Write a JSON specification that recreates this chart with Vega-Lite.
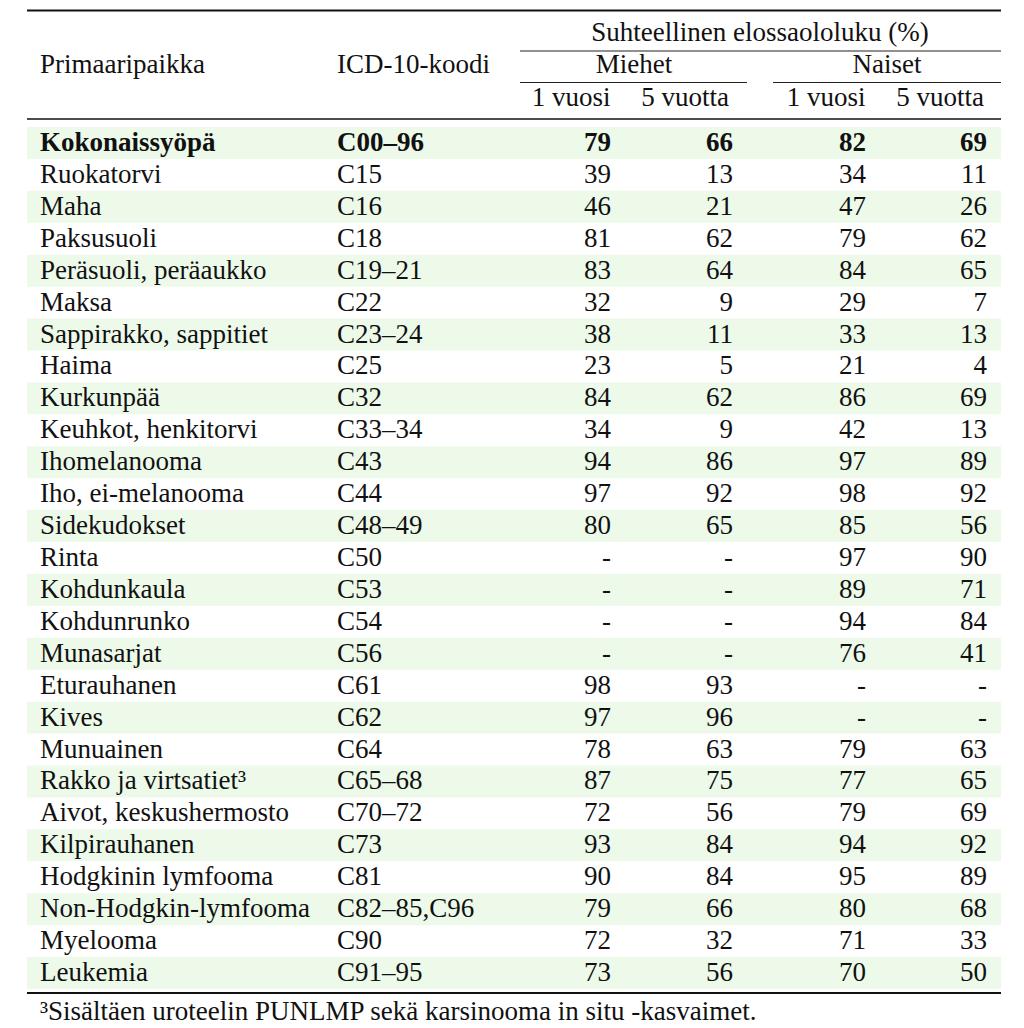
{
  "$schema": "https://vega.github.io/schema/vega-lite/v6.json",
  "width": 1024,
  "height": 1028,
  "padding": 0,
  "autosize": {"type": "none"},
  "background": "white",
  "config": {"view": {"stroke": null}, "font": "Liberation Serif", "text": {"font": "Liberation Serif", "fontSize": 27, "color": "#111111", "baseline": "middle"}},
  "datasets": {
    "rows": [
      {"site": "Kokonaissyöpä", "code": "C00–96", "m1": "79", "m5": "66", "n1": "82", "n5": "69"},
      {"site": "Ruokatorvi", "code": "C15", "m1": "39", "m5": "13", "n1": "34", "n5": "11"},
      {"site": "Maha", "code": "C16", "m1": "46", "m5": "21", "n1": "47", "n5": "26"},
      {"site": "Paksusuoli", "code": "C18", "m1": "81", "m5": "62", "n1": "79", "n5": "62"},
      {"site": "Peräsuoli, peräaukko", "code": "C19–21", "m1": "83", "m5": "64", "n1": "84", "n5": "65"},
      {"site": "Maksa", "code": "C22", "m1": "32", "m5": "9", "n1": "29", "n5": "7"},
      {"site": "Sappirakko, sappitiet", "code": "C23–24", "m1": "38", "m5": "11", "n1": "33", "n5": "13"},
      {"site": "Haima", "code": "C25", "m1": "23", "m5": "5", "n1": "21", "n5": "4"},
      {"site": "Kurkunpää", "code": "C32", "m1": "84", "m5": "62", "n1": "86", "n5": "69"},
      {"site": "Keuhkot, henkitorvi", "code": "C33–34", "m1": "34", "m5": "9", "n1": "42", "n5": "13"},
      {"site": "Ihomelanooma", "code": "C43", "m1": "94", "m5": "86", "n1": "97", "n5": "89"},
      {"site": "Iho, ei-melanooma", "code": "C44", "m1": "97", "m5": "92", "n1": "98", "n5": "92"},
      {"site": "Sidekudokset", "code": "C48–49", "m1": "80", "m5": "65", "n1": "85", "n5": "56"},
      {"site": "Rinta", "code": "C50", "m1": "-", "m5": "-", "n1": "97", "n5": "90"},
      {"site": "Kohdunkaula", "code": "C53", "m1": "-", "m5": "-", "n1": "89", "n5": "71"},
      {"site": "Kohdunrunko", "code": "C54", "m1": "-", "m5": "-", "n1": "94", "n5": "84"},
      {"site": "Munasarjat", "code": "C56", "m1": "-", "m5": "-", "n1": "76", "n5": "41"},
      {"site": "Eturauhanen", "code": "C61", "m1": "98", "m5": "93", "n1": "-", "n5": "-"},
      {"site": "Kives", "code": "C62", "m1": "97", "m5": "96", "n1": "-", "n5": "-"},
      {"site": "Munuainen", "code": "C64", "m1": "78", "m5": "63", "n1": "79", "n5": "63"},
      {"site": "Rakko ja virtsatiet³", "code": "C65–68", "m1": "87", "m5": "75", "n1": "77", "n5": "65"},
      {"site": "Aivot, keskushermosto", "code": "C70–72", "m1": "72", "m5": "56", "n1": "79", "n5": "69"},
      {"site": "Kilpirauhanen", "code": "C73", "m1": "93", "m5": "84", "n1": "94", "n5": "92"},
      {"site": "Hodgkinin lymfooma", "code": "C81", "m1": "90", "m5": "84", "n1": "95", "n5": "89"},
      {"site": "Non-Hodgkin-lymfooma", "code": "C82–85,C96", "m1": "79", "m5": "66", "n1": "80", "n5": "68"},
      {"site": "Myelooma", "code": "C90", "m1": "72", "m5": "32", "n1": "71", "n5": "33"},
      {"site": "Leukemia", "code": "C91–95", "m1": "73", "m5": "56", "n1": "70", "n5": "50"}
    ],
    "cols": [
      {"key": "m1", "xi": 5},
      {"key": "m5", "xi": 8},
      {"key": "n1", "xi": 13},
      {"key": "n5", "xi": 16}
    ],
    "heads": [
      {"text": "Suhteellinen elossaololuku (%)", "xi": 10, "yi": 1},
      {"text": "Miehet", "xi": 6, "yi": 3},
      {"text": "Naiset", "xi": 14, "yi": 3},
      {"text": "1 vuosi", "xi": 4, "yi": 5},
      {"text": "5 vuotta", "xi": 7, "yi": 5},
      {"text": "1 vuosi", "xi": 12, "yi": 5},
      {"text": "5 vuotta", "xi": 15, "yi": 5},
      {"text": "Primaaripaikka", "xi": 1, "yi": 3},
      {"text": "ICD-10-koodi", "xi": 2, "yi": 3},
      {"text": "³Sisältäen uroteelin PUNLMP sekä karsinooma in situ -kasvaimet.", "xi": 1, "yi": 8}
    ],
    "rules": [
      {"kind": "heavy", "x1": 0, "x2": 17, "yi": 0},
      {"kind": "thin", "x1": 3, "x2": 17, "yi": 2},
      {"kind": "thin", "x1": 3, "x2": 9, "yi": 4},
      {"kind": "thin", "x1": 11, "x2": 17, "yi": 4},
      {"kind": "mid", "x1": 0, "x2": 17, "yi": 6},
      {"kind": "heavy", "x1": 0, "x2": 17, "yi": 7}
    ]
  },
  "resolve": {"scale": {"x": "independent", "y": "independent"}},
  "layer": [
    {
      "data": {"name": "rows"},
      "encoding": {
        "y": {"field": "site", "type": "nominal", "axis": null,
          "scale": {"type": "band", "paddingInner": 0, "paddingOuter": 0, "range": [127, 989],
            "domain": ["Kokonaissyöpä", "Ruokatorvi", "Maha", "Paksusuoli", "Peräsuoli, peräaukko", "Maksa", "Sappirakko, sappitiet", "Haima", "Kurkunpää", "Keuhkot, henkitorvi", "Ihomelanooma", "Iho, ei-melanooma", "Sidekudokset", "Rinta", "Kohdunkaula", "Kohdunrunko", "Munasarjat", "Eturauhanen", "Kives", "Munuainen", "Rakko ja virtsatiet³", "Aivot, keskushermosto", "Kilpirauhanen", "Hodgkinin lymfooma", "Non-Hodgkin-lymfooma", "Myelooma", "Leukemia"]}}
      },
      "resolve": {"scale": {"x": "independent"}},
      "layer": [
        {
          "transform": [
            {"window": [{"op": "row_number", "as": "idx"}]},
            {"filter": "datum.idx % 2 == 1"}
          ],
          "mark": {"type": "rect", "color": "#edfaea"},
          "encoding": {
            "x": {"datum": 0, "type": "quantitative", "axis": null,
              "scale": {"domain": [0,1,2,3,4,5,6,7,8,9,10,11,12,13,14,15,16,17], "range": [27,40,337,520,571,611,634,685,733,747,760,773,826,866,887,940,987,1001], "zero": false, "nice": false}},
            "x2": {"datum": 17}
          }
        },
        {
          "transform": [{"window": [{"op": "row_number", "as": "idx"}]}, {"filter": "datum.idx > 1"}],
          "mark": {"type": "text", "align": "left", "font": "Liberation Serif", "fontSize": 27},
          "encoding": {
            "x": {"datum": 1, "type": "quantitative", "axis": null,
              "scale": {"domain": [0,1,2,3,4,5,6,7,8,9,10,11,12,13,14,15,16,17], "range": [27,40,337,520,571,611,634,685,733,747,760,773,826,866,887,940,987,1001], "zero": false, "nice": false}},
            "text": {"field": "site"}
          }
        },
        {
          "transform": [{"window": [{"op": "row_number", "as": "idx"}]}, {"filter": "datum.idx == 1"}],
          "mark": {"type": "text", "align": "left", "fontWeight": "bold", "font": "Liberation Serif", "fontSize": 27},
          "encoding": {
            "x": {"datum": 1, "type": "quantitative", "axis": null,
              "scale": {"domain": [0,1,2,3,4,5,6,7,8,9,10,11,12,13,14,15,16,17], "range": [27,40,337,520,571,611,634,685,733,747,760,773,826,866,887,940,987,1001], "zero": false, "nice": false}},
            "text": {"field": "site"}
          }
        },
        {
          "transform": [{"window": [{"op": "row_number", "as": "idx"}]}, {"filter": "datum.idx > 1"}],
          "mark": {"type": "text", "align": "left", "font": "Liberation Serif", "fontSize": 27},
          "encoding": {
            "x": {"datum": 2, "type": "quantitative", "axis": null,
              "scale": {"domain": [0,1,2,3,4,5,6,7,8,9,10,11,12,13,14,15,16,17], "range": [27,40,337,520,571,611,634,685,733,747,760,773,826,866,887,940,987,1001], "zero": false, "nice": false}},
            "text": {"field": "code"}
          }
        },
        {
          "transform": [{"window": [{"op": "row_number", "as": "idx"}]}, {"filter": "datum.idx == 1"}],
          "mark": {"type": "text", "align": "left", "fontWeight": "bold", "font": "Liberation Serif", "fontSize": 27},
          "encoding": {
            "x": {"datum": 2, "type": "quantitative", "axis": null,
              "scale": {"domain": [0,1,2,3,4,5,6,7,8,9,10,11,12,13,14,15,16,17], "range": [27,40,337,520,571,611,634,685,733,747,760,773,826,866,887,940,987,1001], "zero": false, "nice": false}},
            "text": {"field": "code"}
          }
        },
        {
          "transform": [
            {"window": [{"op": "row_number", "as": "idx"}]},
            {"filter": "datum.idx > 1"},
            {"fold": ["m1", "m5", "n1", "n5"]},
            {"lookup": "key", "from": {"data": {"name": "cols"}, "key": "key", "fields": ["xi"]}}
          ],
          "mark": {"type": "text", "align": "right", "font": "Liberation Serif", "fontSize": 27},
          "encoding": {
            "x": {"field": "xi", "type": "quantitative", "axis": null,
              "scale": {"domain": [0,1,2,3,4,5,6,7,8,9,10,11,12,13,14,15,16,17], "range": [27,40,337,520,571,611,634,685,733,747,760,773,826,866,887,940,987,1001], "zero": false, "nice": false}},
            "text": {"field": "value"}
          }
        },
        {
          "transform": [
            {"window": [{"op": "row_number", "as": "idx"}]},
            {"filter": "datum.idx == 1"},
            {"fold": ["m1", "m5", "n1", "n5"]},
            {"lookup": "key", "from": {"data": {"name": "cols"}, "key": "key", "fields": ["xi"]}}
          ],
          "mark": {"type": "text", "align": "right", "fontWeight": "bold", "font": "Liberation Serif", "fontSize": 27},
          "encoding": {
            "x": {"field": "xi", "type": "quantitative", "axis": null,
              "scale": {"domain": [0,1,2,3,4,5,6,7,8,9,10,11,12,13,14,15,16,17], "range": [27,40,337,520,571,611,634,685,733,747,760,773,826,866,887,940,987,1001], "zero": false, "nice": false}},
            "text": {"field": "value"}
          }
        }
      ]
    },
    {
      "data": {"name": "rules"},
      "transform": [{"filter": "datum.kind == 'heavy'"}],
      "mark": {"type": "rule", "color": "#111111", "strokeWidth": 2.2},
      "encoding": {
        "x": {"field": "x1", "type": "quantitative", "axis": null,
          "scale": {"domain": [0,1,2,3,4,5,6,7,8,9,10,11,12,13,14,15,16,17], "range": [27,40,337,520,571,611,634,685,733,747,760,773,826,866,887,940,987,1001], "zero": false, "nice": false}},
        "x2": {"field": "x2"},
        "y": {"field": "yi", "type": "quantitative", "axis": null,
          "scale": {"domain": [0,1,2,3,4,5,6,7,8], "range": [10.5,33,51,65,82.5,97.5,119,993,1012], "zero": false, "nice": false}}
      }
    },
    {
      "data": {"name": "rules"},
      "transform": [{"filter": "datum.kind == 'mid'"}],
      "mark": {"type": "rule", "color": "#111111", "strokeWidth": 1.6},
      "encoding": {
        "x": {"field": "x1", "type": "quantitative", "axis": null,
          "scale": {"domain": [0,1,2,3,4,5,6,7,8,9,10,11,12,13,14,15,16,17], "range": [27,40,337,520,571,611,634,685,733,747,760,773,826,866,887,940,987,1001], "zero": false, "nice": false}},
        "x2": {"field": "x2"},
        "y": {"field": "yi", "type": "quantitative", "axis": null,
          "scale": {"domain": [0,1,2,3,4,5,6,7,8], "range": [10.5,33,51,65,82.5,97.5,119,993,1012], "zero": false, "nice": false}}
      }
    },
    {
      "data": {"name": "rules"},
      "transform": [{"filter": "datum.kind == 'thin'"}],
      "mark": {"type": "rule", "color": "#222222", "strokeWidth": 1.1},
      "encoding": {
        "x": {"field": "x1", "type": "quantitative", "axis": null,
          "scale": {"domain": [0,1,2,3,4,5,6,7,8,9,10,11,12,13,14,15,16,17], "range": [27,40,337,520,571,611,634,685,733,747,760,773,826,866,887,940,987,1001], "zero": false, "nice": false}},
        "x2": {"field": "x2"},
        "y": {"field": "yi", "type": "quantitative", "axis": null,
          "scale": {"domain": [0,1,2,3,4,5,6,7,8], "range": [10.5,33,51,65,82.5,97.5,119,993,1012], "zero": false, "nice": false}}
      }
    },
    {
      "data": {"name": "heads"},
      "transform": [{"filter": "datum.xi > 2"}],
      "mark": {"type": "text", "align": "center", "font": "Liberation Serif", "fontSize": 27},
      "encoding": {
        "x": {"field": "xi", "type": "quantitative", "axis": null,
          "scale": {"domain": [0,1,2,3,4,5,6,7,8,9,10,11,12,13,14,15,16,17], "range": [27,40,337,520,571,611,634,685,733,747,760,773,826,866,887,940,987,1001], "zero": false, "nice": false}},
        "y": {"field": "yi", "type": "quantitative", "axis": null,
          "scale": {"domain": [0,1,2,3,4,5,6,7,8], "range": [10.5,33,51,65,82.5,97.5,119,993,1012], "zero": false, "nice": false}},
        "text": {"field": "text"}
      }
    },
    {
      "data": {"name": "heads"},
      "transform": [{"filter": "datum.xi <= 2"}],
      "mark": {"type": "text", "align": "left", "font": "Liberation Serif", "fontSize": 27},
      "encoding": {
        "x": {"field": "xi", "type": "quantitative", "axis": null,
          "scale": {"domain": [0,1,2,3,4,5,6,7,8,9,10,11,12,13,14,15,16,17], "range": [27,40,337,520,571,611,634,685,733,747,760,773,826,866,887,940,987,1001], "zero": false, "nice": false}},
        "y": {"field": "yi", "type": "quantitative", "axis": null,
          "scale": {"domain": [0,1,2,3,4,5,6,7,8], "range": [10.5,33,51,65,82.5,97.5,119,993,1012], "zero": false, "nice": false}},
        "text": {"field": "text"}
      }
    }
  ]
}
